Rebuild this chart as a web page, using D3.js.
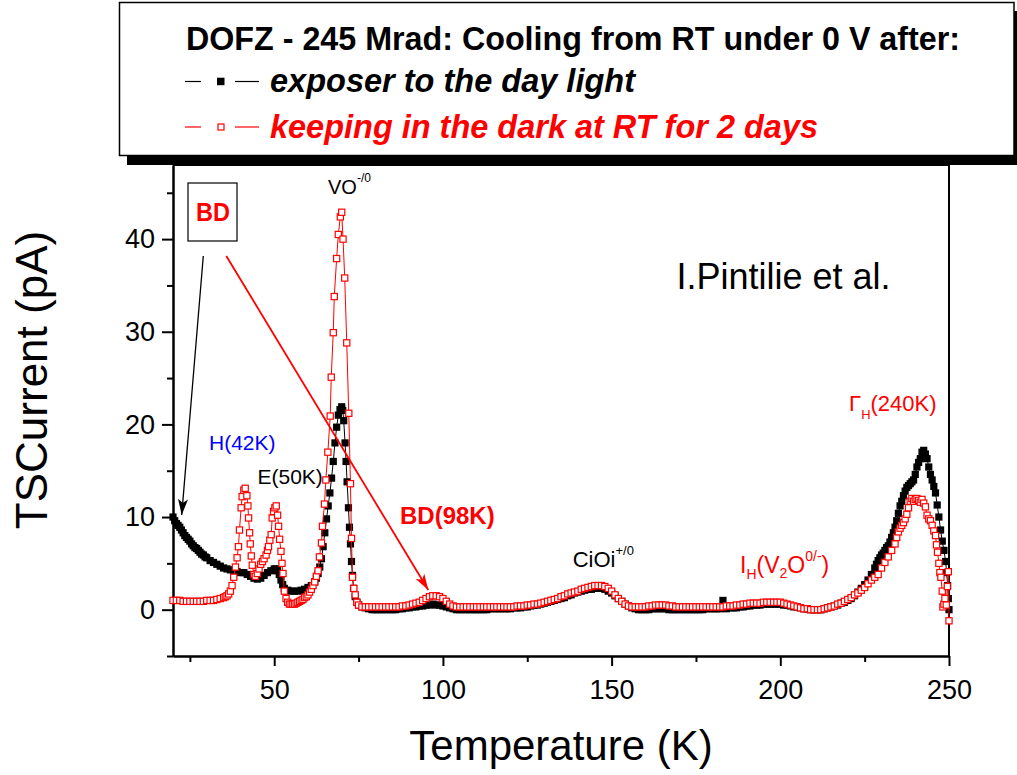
<!DOCTYPE html>
<html><head><meta charset="utf-8">
<script src="https://cdn.jsdelivr.net/npm/d3@7"></script>
<style>body{margin:0;background:#fff}svg{display:block}text{font-family:"Liberation Sans",Arial,Helvetica,sans-serif}</style>
</head><body><svg id="c" width="1017" height="775"></svg>
<script>
// ---------- data ----------
const xDomain = [20, 250];
const yDomain = [-5, 48];
const xMajor = [50, 100, 150, 200, 250];
const xMinor = [25, 75, 125, 175, 225];
const yMajor = [0, 10, 20, 30, 40];
const yMinor = [-5, 5, 15, 25, 35, 45];
const legendTitle = "DOFZ - 245 Mrad: Cooling from RT under 0 V after:";
const seriesNames = ["exposer to the day light", "keeping in the dark at RT for 2 days"];
const xLabel = "Temperature (K)";
const yLabel = "TSCurrent (pA)";

// [T (K), I (pA)] — exposed to day light
const blackData = [
[20,10.0],[20.5,9.6],[21,9.3],[21.5,9.1],[22,8.9],[22.5,8.6],[23,8.3],[23.5,8.0],[24,7.8],[24.5,7.6],
[25,7.4],[25.5,7.1],[26,6.9],[26.5,6.7],[27,6.6],[27.5,6.4],[28,6.2],[28.5,6.0],[29,5.9],[29.5,5.7],
[30,5.6],[31,5.3],[32,5.1],[33,4.9],[34,4.7],[35,4.5],[36,4.4],[37,4.3],[38,4.2],[39,4.1],
[40,4.0],[41,4.0],[42,3.8],[43,3.6],[44,3.4],[45,3.3],[46,3.4],[47,3.7],[48,4.0],[49,4.2],
[50,4.4],[50.5,4.4],[51,4.2],[51.5,3.8],[52,3.2],[52.5,2.7],[53,2.3],[54,2.1],[55,2.0],[56,2.0],
[57,2.0],[58,2.1],[59,2.2],[60,2.4],[61,2.6],[62,3.0],[62.5,3.4],[63,3.9],[63.5,4.6],[64,5.5],
[64.5,6.8],[65,8.3],[65.5,9.8],[66,11.2],[66.5,12.6],[67,14.2],[67.5,16.0],[68,18.0],[68.5,19.7],[69,21.0],
[69.5,21.6],[70,21.9],[70.3,21.5],[70.6,20.4],[71,18.0],[71.3,16.0],[71.6,13.8],[72,11.0],[72.3,8.9],[72.6,7.1],
[72.9,5.2],[73.2,3.7],[73.5,2.3],[74,1.4],[74.5,0.8],[75,0.5],[76,0.3],[77,0.2],[78,0.1],[79,0.0],
[80,0.0],[81,0.0],[82,0.0],[83,0.0],[84,0.0],[85,0.0],[86,0.0],[87,0.1],[88,0.1],[89,0.2],
[90,0.2],[91,0.3],[92,0.3],[93,0.4],[94,0.4],[95,0.5],[96,0.5],[97,0.6],[98,0.5],[99,0.5],
[100,0.4],[101,0.3],[102,0.2],[103,0.1],[104,0.0],[105,0.0],[106,0.0],[107,0.0],[108,0.0],[109,0.0],
[110,0.0],[111,0.0],[112,0.0],[113,0.0],[114,0.1],[115,0.1],[116,0.1],[117,0.1],[118,0.1],[119,0.1],
[120,0.1],[121,0.2],[122,0.2],[123,0.2],[124,0.3],[125,0.3],[126,0.4],[127,0.5],[128,0.5],[129,0.6],
[130,0.7],[131,0.8],[132,0.9],[133,1.0],[134,1.1],[135,1.2],[136,1.3],[137,1.5],[138,1.6],[139,1.8],
[140,1.9],[141,2.0],[142,2.1],[143,2.2],[144,2.2],[145,2.3],[146,2.3],[147,2.3],[148,2.2],[149,2.0],
[150,1.8],[151,1.5],[152,1.2],[153,0.9],[154,0.6],[155,0.4],[156,0.2],[157,0.1],[158,0.0],[159,0.0],
[160,0.0],[161,0.0],[162,0.1],[163,0.1],[164,0.1],[165,0.1],[166,0.1],[167,0.0],[168,0.0],[169,0.0],
[170,0.0],[171,0.0],[172,0.0],[173,0.0],[174,0.0],[175,0.0],[176,0.0],[177,0.0],[178,0.1],[179,0.1],
[180,0.1],[181,0.1],[182,0.1],[183,1.0],[184,0.1],[185,0.2],[186,0.2],[187,0.2],[188,0.3],[189,0.3],
[190,0.4],[191,0.4],[192,0.5],[193,0.5],[194,0.5],[195,0.6],[196,0.6],[197,0.6],[198,0.6],[199,0.6],
[200,0.6],[201,0.5],[202,0.5],[203,0.4],[204,0.3],[205,0.3],[206,0.2],[207,0.1],[208,0.1],[209,0.0],
[210,0.0],[211,0.0],[212,0.0],[213,0.1],[214,0.2],[215,0.3],[216,0.4],[217,0.5],[218,0.7],[219,0.8],
[220,1.0],[221,1.2],[222,1.5],[223,1.9],[224,2.3],[225,2.7],[226,3.2],[227,3.8],[228,4.5],[228.5,4.9],
[229,5.3],[229.5,5.6],[230,5.9],[230.5,6.1],[231,6.4],[231.5,6.7],[232,6.9],[232.5,7.3],[233,7.8],[233.5,8.3],
[234,8.9],[234.5,9.6],[235,10.4],[235.5,11.2],[236,11.7],[236.5,12.3],[237,12.8],[237.5,13.2],[238,13.4],[238.5,13.6],
[239,13.8],[239.5,14.0],[240,14.6],[240.5,15.4],[241,15.9],[241.5,16.3],[242,17.0],[242.5,17.2],[243,16.8],[243.5,16.3],
[244,15.4],[244.5,14.6],[245,14.0],[245.5,13.3],[246,12.6],[246.5,11.3],[247,10.0],[247.5,8.6],[248,7.4],[248.5,6.4],
[249,5.2],[249.3,4.0],[249.6,2.6],[249.8,1.2],[250,0.0]
];

// [T (K), I (pA)] — kept in the dark at RT for 2 days
const redData = [
[20,1.0],[21,1.0],[22,1.0],[23,0.9],[24,0.9],[25,0.9],[26,0.9],[27,0.9],[28,0.9],[29,0.9],
[30,1.0],[31,1.0],[32,1.0],[33,1.1],[34,1.2],[35,1.3],[35.5,1.4],[36,1.5],[36.5,1.7],[37,2.0],
[37.5,2.6],[38,3.5],[38.5,4.6],[39,5.6],[39.4,6.8],[39.7,8.6],[40.2,11.0],[40.5,12.2],[41,12.9],[41.4,13.1],
[41.9,12.3],[42.2,11.2],[42.4,9.9],[42.7,8.3],[42.9,7.1],[43.2,5.8],[43.5,4.8],[44,3.8],[44.4,3.6],[45,3.9],
[45.5,4.4],[46,4.9],[46.5,5.2],[47,5.5],[47.6,5.9],[48,6.4],[48.3,6.8],[48.7,7.5],[49.1,8.1],[49.4,9.9],
[49.8,10.6],[50.2,11.0],[50.6,11.2],[51,10.2],[51.3,9.0],[51.6,7.6],[52,6.3],[52.3,5.0],[52.6,3.9],[53,2.0],
[53.5,1.2],[54,0.8],[54.5,0.6],[55,0.6],[55.5,0.6],[56,0.6],[56.5,0.7],[57,0.8],[57.5,0.9],[58,1.0],
[58.5,1.1],[59,1.3],[59.5,1.4],[60,1.6],[60.5,1.9],[61,2.2],[61.5,2.6],[62,3.0],[62.5,3.6],[63,4.2],
[63.4,5.7],[64,7.2],[64.3,9.0],[64.9,11.4],[65.3,14.0],[65.9,17.0],[66.6,20.9],[66.9,25.1],[67.5,29.9],[67.8,33.8],
[68.5,37.9],[69,40.5],[69.6,42.4],[70,42.9],[70.4,40.0],[70.9,35.8],[71.5,28.8],[72.1,21.2],[72.6,13.6],[72.9,7.7],
[73.2,3.5],[73.6,2.3],[74,1.6],[74.5,0.8],[75,0.5],[76,0.3],[77,0.3],[78,0.3],[79,0.3],[80,0.3],
[81,0.3],[82,0.3],[83,0.3],[84,0.3],[85,0.3],[86,0.3],[87,0.3],[88,0.4],[89,0.4],[90,0.5],
[91,0.6],[92,0.7],[93,0.8],[94,1.0],[95,1.2],[96,1.4],[97,1.5],[98,1.5],[99,1.4],[100,1.2],
[101,0.9],[102,0.6],[103,0.4],[104,0.3],[105,0.3],[106,0.3],[107,0.3],[108,0.3],[109,0.3],[110,0.3],
[111,0.3],[112,0.3],[113,0.3],[114,0.3],[115,0.3],[116,0.3],[117,0.3],[118,0.3],[119,0.3],[120,0.3],
[121,0.3],[122,0.4],[123,0.4],[124,0.4],[125,0.5],[126,0.5],[127,0.6],[128,0.6],[129,0.7],[130,0.8],
[131,0.9],[132,1.0],[133,1.1],[134,1.2],[135,1.4],[136,1.5],[137,1.7],[138,1.8],[139,1.9],[140,2.0],
[141,2.2],[142,2.3],[143,2.4],[144,2.5],[145,2.6],[146,2.6],[147,2.6],[148,2.5],[149,2.3],[150,2.0],
[151,1.6],[152,1.2],[153,0.9],[154,0.6],[155,0.4],[156,0.3],[157,0.3],[158,0.3],[159,0.3],[160,0.3],
[161,0.4],[162,0.4],[163,0.5],[164,0.5],[165,0.5],[166,0.5],[167,0.4],[168,0.4],[169,0.3],[170,0.3],
[171,0.3],[172,0.3],[173,0.3],[174,0.3],[175,0.3],[176,0.3],[177,0.3],[178,0.3],[179,0.3],[180,0.3],
[181,0.3],[182,0.3],[183,0.3],[184,0.4],[185,0.4],[186,0.4],[187,0.5],[188,0.5],[189,0.6],[190,0.6],
[191,0.7],[192,0.7],[193,0.7],[194,0.7],[195,0.8],[196,0.8],[197,0.8],[198,0.8],[199,0.8],[200,0.8],
[201,0.7],[202,0.6],[203,0.5],[204,0.4],[205,0.3],[206,0.2],[207,0.1],[208,0.1],[209,0.0],[210,0.0],
[211,0.0],[212,0.0],[213,0.1],[214,0.2],[215,0.3],[216,0.4],[217,0.6],[218,0.7],[219,0.9],[220,1.1],
[221,1.3],[222,1.6],[223,1.8],[224,2.1],[225,2.4],[226,2.8],[227,3.2],[228,3.5],[229,3.8],[230,4.5],
[231,5.1],[232,5.7],[233,6.4],[234,7.1],[234.5,7.8],[235,8.4],[235.5,8.8],[236,9.1],[236.5,9.4],[237,9.8],
[237.5,10.3],[238,11.0],[238.5,11.7],[239,12.0],[239.5,11.7],[240,11.9],[240.5,12.0],[241,11.8],[241.5,11.6],[242,11.9],
[242.5,11.5],[243,11.1],[243.5,10.2],[244,9.8],[244.5,9.6],[245,9.1],[245.5,8.5],[246,8.0],[246.3,7.0],[246.6,6.2],
[247,5.0],[247.3,4.0],[247.6,3.5],[248,2.0],[248.2,0.3],[248.5,0.6],[248.8,1.2],[249.2,0.5],[249.5,2.5],[249.8,4.1],
[250,-1.2]
];

// ---------- layout ----------
const svg = d3.select("#c");
const X0 = 173, X1 = 949, Y0 = 165, Y1 = 656;
const x = d3.scaleLinear().domain(xDomain).range([X0, X1]);
const y = d3.scaleLinear().domain(yDomain).range([Y1, Y0]);
const RED = "#ff0000", BLUE = "#0000ff";

// ---------- axes ----------
function styleAxis(g, fs) {
  g.selectAll("path.domain").attr("stroke", "#000").attr("stroke-width", 2);
  g.selectAll(".tick line").attr("stroke", "#000").attr("stroke-width", 2);
  g.selectAll(".tick text").attr("font-size", fs).attr("fill", "#000")
    .attr("font-family", '"Liberation Sans",Arial,sans-serif');
}
const gxMinor = svg.append("g").attr("transform", `translate(0,${Y1})`)
  .call(d3.axisBottom(x).tickValues(xMinor).tickSize(6).tickSizeOuter(0).tickFormat(""));
styleAxis(gxMinor, 26);
const gx = svg.append("g").attr("transform", `translate(0,${Y1})`)
  .call(d3.axisBottom(x).tickValues(xMajor).tickSize(10).tickSizeOuter(0).tickPadding(14));
styleAxis(gx, 27);

const gyMinor = svg.append("g").attr("transform", `translate(${X0},0)`)
  .call(d3.axisLeft(y).tickValues(yMinor).tickSize(6).tickSizeOuter(0).tickFormat(""));
styleAxis(gyMinor, 26);
const gy = svg.append("g").attr("transform", `translate(${X0},0)`)
  .call(d3.axisLeft(y).tickValues(yMajor).tickSize(11).tickSizeOuter(0).tickPadding(7));
styleAxis(gy, 27);

// right and top frame lines
svg.append("line").attr("x1", X1).attr("x2", X1).attr("y1", Y0).attr("y2", Y1)
  .attr("stroke", "#000").attr("stroke-width", 2);
svg.append("line").attr("x1", X0).attr("x2", X1).attr("y1", Y0).attr("y2", Y0)
  .attr("stroke", "#000").attr("stroke-width", 2);

// axis titles
svg.append("text").attr("x", 561).attr("y", 760).attr("text-anchor", "middle")
  .attr("font-size", 42).text(xLabel);
svg.append("text").attr("transform", "translate(47,380) rotate(-90)").attr("text-anchor", "middle")
  .attr("font-size", 44).text(yLabel);

// ---------- series ----------
const line = d3.line().x(d => x(d[0])).y(d => y(d[1]));
const plot = svg.append("g");
plot.append("path").datum(blackData).attr("d", line).attr("fill", "none")
  .attr("stroke", "#000").attr("stroke-width", 1);
const BS = 7.2;
plot.selectAll("rect.b").data(blackData).join("rect").attr("class", "b")
  .attr("x", d => x(d[0]) - BS / 2).attr("y", d => y(d[1]) - BS / 2)
  .attr("width", BS).attr("height", BS).attr("fill", "#000");
plot.append("path").datum(redData).attr("d", line).attr("fill", "none")
  .attr("stroke", RED).attr("stroke-width", 1);
const RS = 6.2;
plot.selectAll("rect.r").data(redData).join("rect").attr("class", "r")
  .attr("x", d => x(d[0]) - RS / 2).attr("y", d => y(d[1]) - RS / 2)
  .attr("width", RS).attr("height", RS).attr("fill", "#fff")
  .attr("stroke", RED).attr("stroke-width", 1.2);

// ---------- legend box ----------
svg.append("rect").attr("x", 127).attr("y", 11).attr("width", 895).attr("height", 154).attr("fill", "#000");
svg.append("rect").attr("x", 119.5).attr("y", 2.5).attr("width", 894.5).attr("height", 153)
  .attr("fill", "#fff").attr("stroke", "#000").attr("stroke-width", 1.5);
svg.append("text").attr("x", 186).attr("y", 49.5).attr("font-size", 33).attr("font-weight", "bold")
  .attr("textLength", 774).attr("lengthAdjust", "spacingAndGlyphs").text(legendTitle);

const legRows = [
  {y: 81.5, color: "#000", filled: true, ty: 92, len: 365, name: seriesNames[0]},
  {y: 127, color: RED, filled: false, ty: 138, len: 548, name: seriesNames[1]}
];
legRows.forEach(r => {
  svg.append("line").attr("x1", 185).attr("x2", 201).attr("y1", r.y).attr("y2", r.y).attr("stroke", r.color).attr("stroke-width", 1.2);
  svg.append("line").attr("x1", 235).attr("x2", 259).attr("y1", r.y).attr("y2", r.y).attr("stroke", r.color).attr("stroke-width", 1.2);
  if (r.filled) {
    svg.append("rect").attr("x", 217).attr("y", r.y - 3.8).attr("width", 7.5).attr("height", 7.5).attr("fill", "#000");
  } else {
    svg.append("rect").attr("x", 218).attr("y", r.y - 3).attr("width", 6).attr("height", 6)
      .attr("fill", "#fff").attr("stroke", RED).attr("stroke-width", 1.2);
  }
  svg.append("text").attr("x", 270).attr("y", r.ty).attr("font-size", 34).attr("font-weight", "bold")
    .attr("font-style", "italic").attr("fill", r.color)
    .attr("textLength", r.len).attr("lengthAdjust", "spacingAndGlyphs").text(r.name);
});

// ---------- annotations ----------
const defs = svg.append("defs");
[["ahB", "#000"], ["ahR", RED]].forEach(([id, c]) => {
  defs.append("marker").attr("id", id).attr("viewBox", "0 0 16 10").attr("refX", 16).attr("refY", 5)
    .attr("markerWidth", 16).attr("markerHeight", 10).attr("markerUnits", "userSpaceOnUse")
    .attr("orient", "auto").append("path").attr("d", "M0,0 L16,5 L0,10 L4,5 Z").attr("fill", c);
});
svg.append("line").attr("x1", 203.3).attr("y1", 256).attr("x2", 181.7).attr("y2", 515)
  .attr("stroke", "#000").attr("stroke-width", 1.3).attr("marker-end", "url(#ahB)");
svg.append("line").attr("x1", 226.3).attr("y1", 256).attr("x2", 428.3).attr("y2", 590)
  .attr("stroke", RED).attr("stroke-width", 1.8).attr("marker-end", "url(#ahR)");

svg.append("rect").attr("x", 188).attr("y", 183).attr("width", 49).attr("height", 58)
  .attr("fill", "none").attr("stroke", "#000").attr("stroke-width", 1.2);
svg.append("text").attr("x", 196).attr("y", 220.7).attr("font-size", 25).attr("font-weight", "bold")
  .attr("fill", RED).attr("textLength", 34).attr("lengthAdjust", "spacingAndGlyphs").text("BD");

// VO-/0
const vo = svg.append("text").attr("x", 328).attr("y", 194.3).attr("font-size", 20);
vo.append("tspan").text("VO");
vo.append("tspan").attr("font-size", 12).attr("dy", -12.5).text("-/0");

// H(42K)
svg.append("text").attr("x", 209).attr("y", 450).attr("font-size", 21).attr("fill", BLUE).text("H(42K)");
// E(50K)
svg.append("text").attr("x", 257.5).attr("y", 484.3).attr("font-size", 21).attr("fill", "#000").text("E(50K)");
// BD(98K)
svg.append("text").attr("x", 400).attr("y", 524).attr("font-size", 24).attr("font-weight", "bold")
  .attr("fill", RED).text("BD(98K)");
// CiOi+/0
const ci = svg.append("text").attr("x", 572.7).attr("y", 567.3).attr("font-size", 22);
ci.append("tspan").text("CiOi");
ci.append("tspan").attr("font-size", 13).attr("dy", -12).text("+/0");
// I_H(V_2O^0/-)
const ih = svg.append("text").attr("x", 740).attr("y", 573).attr("font-size", 23).attr("fill", RED);
ih.append("tspan").text("I");
ih.append("tspan").attr("font-size", 14).attr("dy", 6).text("H");
ih.append("tspan").attr("dy", -6).text("(V");
ih.append("tspan").attr("font-size", 14).attr("dy", 5).text("2");
ih.append("tspan").attr("dy", -5).text("O");
ih.append("tspan").attr("font-size", 14).attr("dy", -12).text("0/-");
ih.append("tspan").attr("dy", 12).text(")");
// Γ_H(240K)
const gh = svg.append("text").attr("x", 849).attr("y", 410.7).attr("font-size", 22).attr("fill", RED);
gh.append("tspan").text("Γ");
gh.append("tspan").attr("font-size", 13).attr("dy", 8.5).text("H");
gh.append("tspan").attr("dy", -8.5).text("(240K)");
// author
svg.append("text").attr("x", 676.5).attr("y", 289.3).attr("font-size", 36).text("I.Pintilie et al.");
</script></body></html>
